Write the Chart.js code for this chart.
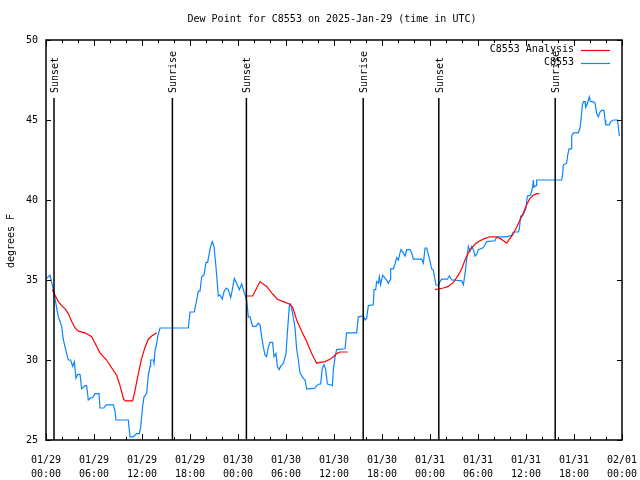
<!DOCTYPE html>
<html>
<head>
<meta charset="utf-8">
<script src="https://cdn.jsdelivr.net/npm/chart.js@4"></script>
<style>
  html, body { margin: 0; padding: 0; background: #fff; }
  canvas { display: block; }
</style>
</head>
<body>
<canvas id="dew" width="640" height="480" style="width:640px;height:480px"></canvas>
<script>
// hours since 2025-01-29 00:00 UTC
const obsHours = [0.08, 0.5, 0.92, 1.54, 1.96, 2.17, 2.58, 2.79, 3.08, 3.33, 3.54, 3.75, 3.96, 4.25, 4.46, 4.88, 5.08, 5.29, 5.5, 5.83,
  6.13, 6.63, 6.75, 7.25, 7.5, 8.42, 8.63, 8.75, 10.29, 10.5, 10.92, 11.33, 11.67, 11.83, 12.08, 12.25, 12.58, 12.79, 13.0, 13.08,
  13.42, 13.5, 13.63, 13.83, 13.96, 14.25, 17.79, 18.0, 18.54, 18.83, 19.04, 19.25, 19.46, 19.75, 20.0, 20.21, 20.29, 20.58, 20.79, 21.0,
  21.25, 21.54, 21.75, 22.04, 22.25, 22.5, 22.79, 23.08, 23.29, 23.54, 23.83, 24.17, 24.46, 24.67, 24.88, 25.08, 25.29, 25.5, 25.83, 26.25,
  26.54, 26.75, 26.96, 27.17, 27.38, 27.58, 27.79, 28.0, 28.33, 28.5, 28.75, 28.92, 29.13, 29.33, 29.67, 30.0, 30.17, 30.42, 30.58, 30.83,
  31.13, 31.33, 31.54, 31.75, 32.17, 32.38, 32.58, 33.0, 33.63, 33.83, 34.17, 34.33, 34.54, 34.75, 34.96, 35.17, 35.5, 35.79, 35.92, 36.13,
  36.33, 37.38, 37.58, 38.83, 39.04, 39.67, 39.88, 40.08, 40.29, 40.92, 41.0, 41.21, 41.33, 41.54, 41.67, 41.83, 42.08, 42.25, 42.58, 42.79,
  43.0, 43.08, 43.42, 43.63, 43.83, 44.04, 44.25, 44.38, 44.67, 44.88, 45.08, 45.5, 45.71, 45.92, 46.96, 47.17, 47.38, 47.58, 47.79, 48.0,
  48.21, 48.42, 48.63, 48.75, 49.04, 49.25, 49.46, 50.17, 50.42, 50.71, 50.92, 51.96, 52.17, 52.38, 52.58, 52.79, 53.0, 53.21, 53.42, 53.63,
  53.83, 54.04, 54.58, 54.88, 55.08, 56.13, 56.33, 57.58, 58.21, 58.42, 59.04, 59.17, 59.33, 59.58, 59.75, 60.0, 60.17, 60.58, 60.83, 60.92,
  61.0, 61.25, 61.33, 64.46, 64.58, 64.67, 65.08, 65.21, 65.38, 65.63, 65.71, 65.92, 66.54, 66.75, 66.88, 67.04, 67.17, 67.38, 67.46, 67.67,
  67.79, 67.92, 68.04, 68.33, 68.63, 68.83, 69.04, 69.25, 69.46, 69.75, 69.88, 69.96, 70.42, 70.58, 70.92, 71.42, 71.54, 71.67];
const obsValues = [35.1, 35.3, 34.4, 32.7, 32.1, 31.25, 30.4, 30.0, 30.0, 29.6, 29.9, 28.85, 29.1, 29.1, 28.2, 28.4, 28.4, 27.5, 27.6, 27.65,
  27.9, 27.9, 27.0, 27.0, 27.2, 27.2, 26.8, 26.25, 26.25, 25.2, 25.2, 25.4, 25.4, 25.8, 27.1, 27.7, 27.9, 29.05, 29.6, 30.0,
  30.0, 29.8, 30.6, 31.0, 31.45, 32.0, 32.0, 33.0, 33.0, 33.75, 34.3, 34.3, 35.2, 35.3, 36.1, 36.1, 36.35, 37.1, 37.4, 37.1,
  35.8, 34.0, 34.06, 33.8, 34.27, 34.5, 34.4, 33.9, 34.4, 35.1, 34.8, 34.4, 34.75, 34.4, 34.06, 33.75, 32.7, 32.7, 32.1, 32.1,
  32.3, 32.2, 31.45, 30.8, 30.3, 30.2, 30.8, 31.1, 31.1, 30.2, 30.4, 29.6, 29.4, 29.6, 29.8, 30.4, 31.7, 33.4, 33.5, 32.9,
  32.0, 30.7, 30.0, 29.2, 28.85, 28.75, 28.2, 28.2, 28.25, 28.4, 28.5, 28.5, 29.5, 29.7, 29.4, 28.5, 28.45, 28.4, 29.4, 30.2,
  30.65, 30.7, 31.7, 31.7, 32.7, 32.75, 32.5, 32.6, 33.4, 33.45, 34.4, 34.4, 34.9, 34.8, 35.2, 34.7, 35.3, 35.2, 35.0, 34.8,
  35.0, 35.7, 35.7, 36.0, 36.4, 36.25, 36.7, 36.9, 36.7, 36.5, 36.9, 36.9, 36.7, 36.3, 36.3, 36.05, 37.0, 37.0, 36.6, 36.2,
  35.7, 35.6, 35.0, 34.7, 34.65, 34.9, 35.05, 35.05, 35.25, 35.0, 35.0, 34.95, 34.7, 35.4, 36.25, 37.1, 36.8, 37.1, 36.9, 36.5,
  36.6, 36.9, 37.0, 37.2, 37.4, 37.45, 37.7, 37.7, 37.8, 38.0, 38.0, 38.2, 39.0, 39.0, 39.2, 39.5, 40.25, 40.3, 40.8, 41.25,
  40.8, 40.9, 41.25, 41.25, 41.6, 42.2, 42.3, 42.8, 43.2, 43.2, 44.0, 44.2, 44.2, 44.5, 45.05, 45.9, 46.15, 46.15, 45.8, 46.0,
  46.25, 46.45, 46.15, 46.15, 46.05, 45.4, 45.2, 45.5, 45.6, 45.6, 45.0, 44.7, 44.7, 44.9, 45.0, 45.0, 44.6, 44.0];

// analysis series, null marks a break in the line
const analysisHours = [0.79, 1.13, 1.54, 1.96, 2.38, 2.79, 3.21, 3.63, 4.04, 4.88, 5.71, 6.13, 6.75, 7.58, 8.21, 8.83, 9.25, 9.67, 9.88, 10.83,
  11.13, 11.54, 11.96, 12.38, 12.79, 13.21, 13.83, 19.0,
  24.88, 25.83, 26.75, 27.58, 28.21, 28.92, 29.67, 30.42, 30.83, 31.33, 31.96, 32.58, 33.21, 33.83, 34.25, 34.88, 35.5, 35.92, 36.33, 36.75,
  37.71, 43.0,
  48.63, 49.67, 50.29, 50.92, 51.54, 51.96, 52.38, 52.79, 53.21, 53.63, 54.25, 54.88, 55.5, 56.13, 56.75, 57.17, 57.58, 58.0, 58.42, 58.83,
  59.25, 59.67, 60.08, 60.5, 60.92, 61.33, 61.67];
const analysisValues = [34.4, 34.05, 33.65, 33.4, 33.2, 32.9, 32.4, 32.0, 31.8, 31.7, 31.45, 31.05, 30.45, 30.0, 29.5, 29.05, 28.4, 27.6, 27.45, 27.45,
  28.1, 29.15, 30.1, 30.8, 31.3, 31.5, 31.7, null,
  34.0, 34.0, 34.9, 34.6, 34.2, 33.8, 33.65, 33.5, 33.3, 32.5, 31.8, 31.15, 30.4, 29.8, 29.85, 29.9, 30.05, 30.2, 30.4, 30.5,
  30.5, null,
  34.4, 34.5, 34.6, 34.85, 35.3, 35.7, 36.25, 36.7, 37.0, 37.25, 37.45, 37.6, 37.7, 37.7, 37.6, 37.45, 37.3, 37.6, 37.9, 38.3,
  38.75, 39.2, 39.7, 40.1, 40.3, 40.4, 40.4];

const sunEventHours = [1.0, 15.8, 25.05, 39.65, 49.1, 63.65];
const sunEventNames = ['Sunset', 'Sunrise', 'Sunset', 'Sunrise', 'Sunset', 'Sunrise'];

const startDay = Date.UTC(2025, 0, 29);
const yTicks = [25, 30, 35, 40, 45, 50];

const FAMILY = '"DejaVu Sans Mono", "Liberation Mono", monospace';
const FONT = '10px ' + FAMILY;
const RED = '#ff0000';
const BLUE = '#0a84ff';

function pad(n) { return String(n).padStart(2, '0'); }
function timeLabel(h) {
  const d = new Date(startDay + h * 3600000);
  return [pad(d.getUTCMonth() + 1) + '/' + pad(d.getUTCDate()), pad(d.getUTCHours()) + ':00'];
}

const toPoints = (xs, ys) => xs.map((x, i) => ({ x: x, y: ys[i] }));

const decor = {
  id: 'decor',
  afterDraw(chart) {
    const ctx = chart.ctx;
    const a = chart.chartArea;
    const xs = chart.scales.x, ys = chart.scales.y;
    ctx.save();
    ctx.strokeStyle = '#000';
    ctx.fillStyle = '#000';
    ctx.font = FONT;

    // ticks pointing inward, on all four sides
    ctx.lineWidth = 1;
    ctx.beginPath();
    xs.ticks.forEach(t => {
      const px = Math.round(xs.getPixelForValue(t.value)) + 0.5;
      const len = t.value % 6 === 0 ? 6 : 3;
      ctx.moveTo(px, a.bottom); ctx.lineTo(px, a.bottom - len);
      ctx.moveTo(px, a.top); ctx.lineTo(px, a.top + len);
    });
    ys.ticks.forEach(t => {
      const py = Math.round(ys.getPixelForValue(t.value)) + 0.5;
      ctx.moveTo(a.left, py); ctx.lineTo(a.left + 5, py);
      ctx.moveTo(a.right, py); ctx.lineTo(a.right - 5, py);
    });
    ctx.stroke();

    // sunrise / sunset markers
    ctx.lineWidth = 1.5;
    sunEventHours.forEach((h, i) => {
      const px = xs.getPixelForValue(h);
      ctx.beginPath();
      ctx.moveTo(px, 98); ctx.lineTo(px, a.bottom);
      ctx.stroke();
      ctx.save();
      ctx.translate(px + 1.5, 93);
      ctx.rotate(-Math.PI / 2);
      ctx.textAlign = 'left';
      ctx.textBaseline = 'middle';
      ctx.fillText(sunEventNames[i], 0, 0);
      ctx.restore();
    });

    // frame
    ctx.lineWidth = 1.5;
    ctx.strokeRect(a.left, a.top, a.right - a.left, a.bottom - a.top);

    // title
    ctx.textAlign = 'center';
    ctx.textBaseline = 'middle';
    ctx.fillText('Dew Point for C8553 on 2025-Jan-29 (time in UTC)', 332, 19);

    // y axis title
    ctx.save();
    ctx.translate(11, 241);
    ctx.rotate(-Math.PI / 2);
    ctx.fillText('degrees F', 0, 0);
    ctx.restore();

    // legend
    const items = [['C8553 Analysis', RED], ['C8553', BLUE]];
    items.forEach((it, i) => {
      const y = 49.5 + i * 13;
      ctx.fillStyle = '#000';
      ctx.textAlign = 'right';
      ctx.fillText(it[0], 574, y);
      ctx.strokeStyle = it[1];
      ctx.lineWidth = 1.2;
      ctx.beginPath();
      ctx.moveTo(581, Math.round(y) + 0.5); ctx.lineTo(610, Math.round(y) + 0.5);
      ctx.stroke();
    });
    ctx.restore();
  }
};

new Chart(document.getElementById('dew'), {
  type: 'line',
  data: {
    datasets: [
      {
        label: 'C8553 Analysis',
        data: toPoints(analysisHours, analysisValues),
        borderColor: RED,
        borderWidth: 1.2,
        pointRadius: 0,
        tension: 0,
        spanGaps: false
      },
      {
        label: 'C8553',
        data: toPoints(obsHours, obsValues),
        borderColor: BLUE,
        borderWidth: 1.2,
        pointRadius: 0,
        tension: 0
      }
    ]
  },
  options: {
    responsive: false,
    animation: false,
    devicePixelRatio: 1,
    layout: { padding: { top: 40, right: 18, left: 0, bottom: 0 } },
    plugins: { legend: { display: false }, title: { display: false }, tooltip: { enabled: false } },
    scales: {
      x: {
        type: 'linear',
        min: 0,
        max: 72,
        grid: { display: false, drawTicks: false },
        border: { display: false },
        afterFit: s => { s.height = 40; s.paddingLeft = 0; s.paddingRight = 0; },
        ticks: {
          stepSize: 2,
          autoSkip: false,
          maxRotation: 0,
          padding: 13,
          color: '#000',
          font: { family: FAMILY, size: 10, lineHeight: 1.4 },
          callback: v => (v % 6 === 0 ? timeLabel(v) : '')
        }
      },
      y: {
        min: 25,
        max: 50,
        grid: { display: false, drawTicks: false },
        border: { display: false },
        afterFit: s => { s.width = 46; s.paddingTop = 0; s.paddingBottom = 0; },
        afterBuildTicks: s => { s.ticks = yTicks.map(v => ({ value: v })); },
        ticks: {
          padding: 8,
          color: '#000',
          font: { family: FAMILY, size: 10 }
        }
      }
    }
  },
  plugins: [decor]
});
</script>
</body>
</html>
